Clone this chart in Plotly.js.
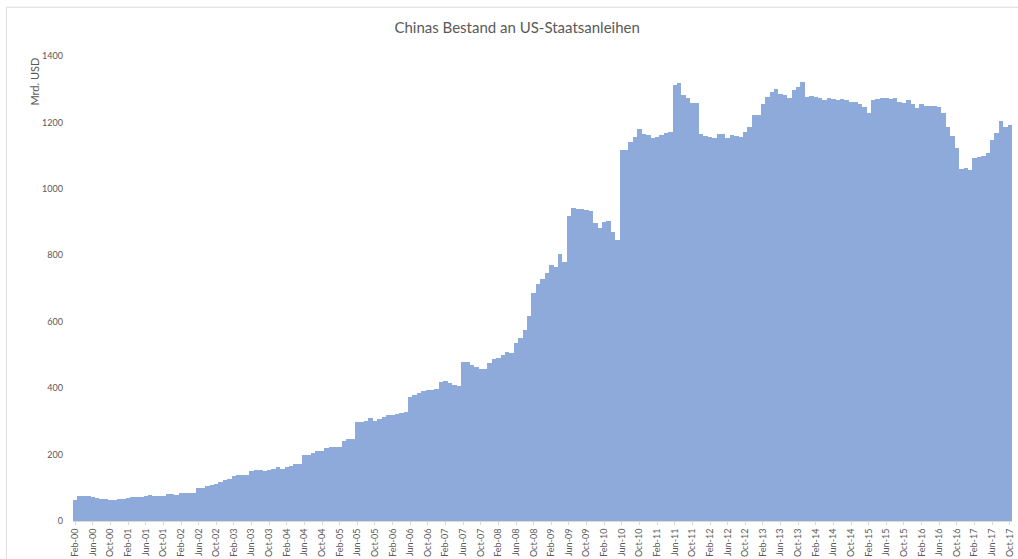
<!DOCTYPE html>
<html>
<head>
<meta charset="utf-8">
<script src="https://cdn.plot.ly/plotly-3.0.1.min.js"></script>
<style>
  html, body { margin: 0; padding: 0; background: #ffffff; }
  #chart { width: 1018px; height: 559px; }
</style>
</head>
<body>
<div id="chart"></div>
<script>
// Monthly values, Mrd. USD (Feb-00 .. Oct-17)
const v2000 = [63, 75, 76, 75, 72, 69, 66, 65, 62, 62, 65];               // Feb-Dec
const v2001 = [66, 69, 71, 72, 72, 75, 78, 75, 74, 74, 80, 80];
const v2002 = [79, 84, 85, 85, 84, 98, 99, 106, 107, 112, 117, 122];
const v2003 = [126, 136, 139, 139, 139, 151, 153, 153, 150, 154, 158, 164];
const v2004 = [157, 164, 167, 171, 171, 198, 198, 204, 211, 212, 219, 223];
const v2005 = [224, 224, 240, 246, 247, 297, 298, 302, 309, 302, 307, 312];
const v2006 = [318, 318, 322, 325, 329, 372, 379, 386, 390, 393, 394, 396];
const v2007 = [418, 421, 414, 408, 407, 478, 479, 470, 465, 459, 459, 477];
const v2008 = [487, 491, 500, 509, 505, 537, 551, 575, 618, 685, 715, 730];
const v2009 = [747, 771, 766, 803, 779, 918, 943, 939, 938, 937, 932, 898];
const v2010 = [882, 900, 902, 870, 846, 1117, 1117, 1141, 1155, 1180, 1166, 1162];
const v2011 = [1152, 1157, 1162, 1167, 1172, 1312, 1318, 1284, 1274, 1258, 1258, 1165];
const v2012 = [1160, 1155, 1152, 1165, 1165, 1152, 1162, 1160, 1157, 1172, 1185, 1222];
const v2013 = [1222, 1257, 1277, 1293, 1300, 1285, 1283, 1273, 1298, 1308, 1321, 1276];
const v2014 = [1279, 1276, 1275, 1269, 1274, 1272, 1269, 1270, 1268, 1262, 1262, 1255];
const v2015 = [1247, 1229, 1267, 1272, 1275, 1275, 1272, 1275, 1262, 1259, 1269, 1254];
const v2016 = [1242, 1257, 1249, 1249, 1249, 1245, 1229, 1187, 1159, 1122, 1059, 1064];
const v2017 = [1057, 1092, 1097, 1100, 1107, 1147, 1169, 1205, 1187, 1191];  // Jan-Oct

const values = [].concat(v2000, v2001, v2002, v2003, v2004, v2005, v2006, v2007, v2008,
                         v2009, v2010, v2011, v2012, v2013, v2014, v2015, v2016, v2017);

// Category labels
const monthAbbr = ['Jan','Feb','Mar','Apr','May','Jun','Jul','Aug','Sep','Oct','Nov','Dec'];
const months = values.map((_, i) => {
  const m = (1 + i) % 12;
  const y = 2000 + Math.floor((1 + i) / 12);
  return monthAbbr[m] + '-' + String(y % 100).padStart(2, '0');
});
const tickLabels = months.filter((_, i) => i % 4 === 0);

const titleText = 'Chinas Bestand an US-Staatsanleihen';
const yTitleText = 'Mrd. USD';
const yTicks = [0, 200, 400, 600, 800, 1000, 1200, 1400];

const fontFam = 'Lato, "Open Sans", sans-serif';
const grey = '#595959';

const trace = {
  type: 'bar',
  x: months,
  y: values,
  marker: { color: '#8eaadb', line: { width: 0 } },
  hoverinfo: 'skip'
};

const layout = {
  width: 1018,
  height: 559,
  margin: { l: 73, r: 6, t: 56, b: 38, pad: 0 },
  paper_bgcolor: '#ffffff',
  plot_bgcolor: '#ffffff',
  showlegend: false,
  bargap: 0,
  title: {
    text: titleText,
    font: { family: fontFam, size: 15, color: grey },
    x: 0.508, xref: 'container', xanchor: 'center',
    y: 0.95, yref: 'container', yanchor: 'middle'
  },
  xaxis: {
    type: 'category',
    tickmode: 'array',
    tickvals: tickLabels,
    ticktext: tickLabels,
    tickangle: -90,
    tickfont: { family: fontFam, size: 9, color: grey },
    showline: true,
    linecolor: '#d9d9d9',
    linewidth: 1,
    ticks: 'outside',
    ticklen: 3,
    tickcolor: '#d9d9d9',
    showgrid: false,
    zeroline: false,
    fixedrange: true
  },
  yaxis: {
    range: [0, 1400],
    autorange: false,
    tickmode: 'array',
    tickvals: yTicks,
    ticktext: yTicks.map(String),
    tickfont: { family: fontFam, size: 9, color: grey },
    ticks: '',
    ticklabelstandoff: 9,
    showline: false,
    showgrid: false,
    zeroline: false,
    fixedrange: true
  },
  annotations: [{
    text: yTitleText,
    xref: 'paper', yref: 'paper',
    x: -0.042, y: 1.0,
    xanchor: 'center', yanchor: 'top',
    textangle: -90,
    showarrow: false,
    font: { family: fontFam, size: 11, color: grey }
  }],
  shapes: [{
    type: 'rect',
    xref: 'paper', yref: 'paper',
    x0: -0.071, x1: 1.03,
    y0: -0.2, y1: 1.105,
    line: { color: '#d9d9d9', width: 1 },
    fillcolor: 'rgba(0,0,0,0)',
    layer: 'below'
  }]
};

Plotly.newPlot('chart', [trace], layout, { displayModeBar: false, staticPlot: true });
</script>
</body>
</html>
